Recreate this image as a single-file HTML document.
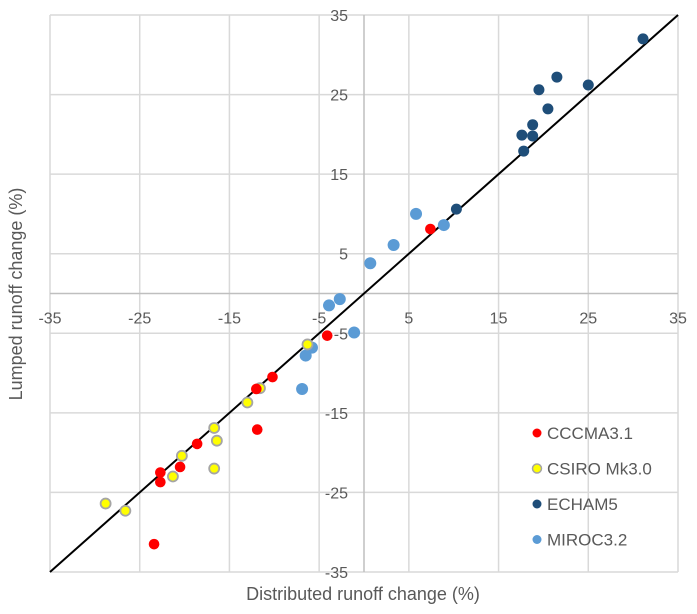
<!DOCTYPE html>
<html><head><meta charset="utf-8"><style>
body{margin:0;background:#fff;}
svg{display:block;font-family:"Liberation Sans",Arial,sans-serif;}
</style></head><body>
<svg id="chart" width="697" height="614"></svg>
<script>
const ticks=[-35,-25,-15,-5,5,15,25,35];
const seriesNames=["CCCMA3.1","CSIRO Mk3.0","ECHAM5","MIROC3.2"];
const cccmaX=[7.4,-4.1,-10.2,-12.0,-11.9,-18.6,-20.5,-22.7,-22.7,-23.4];
const cccmaY=[8.1,-5.3,-10.5,-12.0,-17.1,-18.9,-21.8,-22.5,-23.7,-31.5];
const csiroX=[-6.3,-11.6,-13.0,-16.7,-16.4,-20.3,-21.3,-16.7,-28.8,-26.6];
const csiroY=[-6.4,-11.9,-13.7,-16.9,-18.5,-20.4,-23.0,-22.0,-26.4,-27.3];
const echamX=[31.1,21.5,19.5,25.0,20.5,18.8,17.6,18.8,17.8,10.3];
const echamY=[32.0,27.2,25.6,26.2,23.2,21.2,19.9,19.8,17.9,10.6];
const mirocX=[5.8,8.9,3.3,0.7,-2.7,-3.9,-1.1,-5.8,-6.5,-6.9];
const mirocY=[10.0,8.6,6.1,3.8,-0.7,-1.5,-4.9,-6.8,-7.8,-12.0];
const L=50,R=678,T=15,B=572;
const sx=v=>L+(v+35)/70*(R-L);
const sy=v=>B-(v+35)/70*(B-T);
const svg=document.getElementById('chart');
const NS='http://www.w3.org/2000/svg';
function mk(tag,at,parent){const e=document.createElementNS(NS,tag);for(const k in at)e.setAttribute(k,at[k]);(parent||svg).appendChild(e);return e;}
ticks.forEach(t=>{
  const g1=mk('line',{x1:sx(t),x2:sx(t),y1:T,y2:B,stroke:'#d9d9d9','stroke-width':1.5});
  
  
  const g2=mk('line',{x1:L,x2:R,y1:sy(t),y2:sy(t),stroke:'#d9d9d9','stroke-width':1.5});
  
  
});
const ax=mk('line',{x1:sx(0),x2:sx(0),y1:T,y2:B,stroke:'#bfbfbf','stroke-width':1.5});


const ay=mk('line',{x1:L,x2:R,y1:sy(0),y2:sy(0),stroke:'#bfbfbf','stroke-width':1.5});


ticks.forEach(t=>{
  const a=mk('text',{x:sx(t),y:sy(0)+30,'text-anchor':'middle','font-size':16,fill:'#595959'});
  a.textContent=t;
  
  
  const b=mk('text',{x:sx(0)-16,y:sy(t)+6,'text-anchor':'end','font-size':16,fill:'#595959'});
  b.textContent=t;
  
  
});
const ln=mk('line',{x1:sx(-35),y1:sy(-35),x2:sx(35),y2:sy(35),stroke:'#000','stroke-width':2});


function pts(xs,ys,name,fill,r,stroke){
  xs.forEach((x,i)=>{
    const c=mk('circle',{cx:sx(x),cy:sy(ys[i]),r:r,fill:fill,stroke:stroke||'none','stroke-width':stroke?1.8:0});
    
    
  });
}
pts(echamX,echamY,'echam5-point','#1f4e79',5.5);
pts(mirocX,mirocY,'miroc32-point','#5b9bd5',6);
pts(csiroX,csiroY,'csiro-point','#ffff00',5,'#a5a5a5');
pts(cccmaX,cccmaY,'cccma-point','#ff0000',5.3);
const styles=[['#ff0000',null],['#ffff00','#a5a5a5'],['#1f4e79',null],['#5b9bd5',null]];
seriesNames.forEach((n,i)=>{
  const y=433+i*35.5;
  const c=mk('circle',{cx:537,cy:y,r:4.5,fill:styles[i][0],stroke:styles[i][1]||'none','stroke-width':1.5});
  
  
  const t=mk('text',{x:547,y:y+6,'font-size':17,fill:'#595959'});
  t.textContent=n;
  
  
});
const xt=mk('text',{x:363,y:600,'text-anchor':'middle','font-size':18,fill:'#595959'});
xt.textContent='Distributed runoff change (%)';


const yt=mk('text',{x:0,y:0,'text-anchor':'middle','font-size':18,fill:'#595959',transform:'translate(22,294) rotate(-90)'});
yt.textContent='Lumped runoff change (%)';


</script>
</body></html>
